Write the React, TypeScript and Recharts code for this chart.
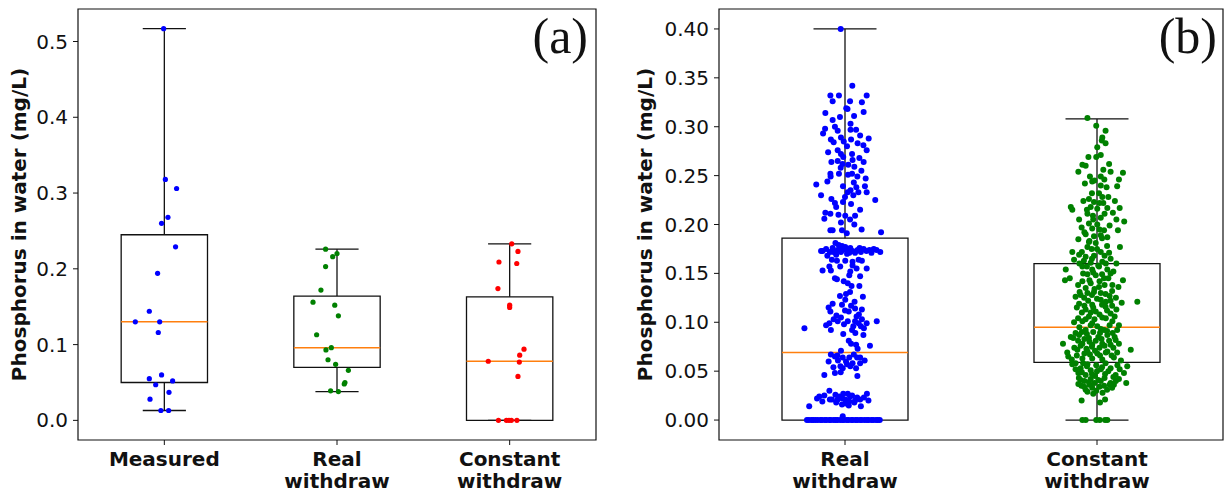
import { ScatterChart, Scatter, XAxis, YAxis, ReferenceArea, ReferenceLine } from 'recharts'

const FONT = '"DejaVu Sans", "Liberation Sans", sans-serif'
const INK = '#111111'
const MEDIAN = '#ff7f0e'

// ---- panel (a) ----
const categoriesA = ['Measured', 'Real\nwithdraw', 'Constant\nwithdraw']
const colorsA = ['#0000ff', '#008000', '#ff0000']
const yTicksA = [0, 0.1, 0.2, 0.3, 0.4, 0.5]
const whiskerLowA = [0.013, 0.038, 0]
const q1A = [0.05, 0.07, 0]
const medianA = [0.13, 0.096, 0.078]
const q3A = [0.245, 0.164, 0.163]
const whiskerHighA = [0.517, 0.226, 0.233]

// [jitter, value]
const measuredPts = [
  [-0.004, 0.517], [0.006, 0.318], [0.071, 0.306], [0.021, 0.268], [-0.016, 0.26],
  [0.065, 0.229], [-0.039, 0.194], [-0.087, 0.144], [-0.168, 0.13], [-0.027, 0.13],
  [-0.035, 0.116], [-0.016, 0.06], [-0.087, 0.055], [0.048, 0.052], [-0.05, 0.047],
  [0.027, 0.037], [-0.083, 0.028], [-0.02, 0.013], [0.025, 0.013],
]
const realPtsA = [
  [-0.066, 0.226], [0, 0.22], [-0.025, 0.216], [-0.066, 0.203], [-0.093, 0.172],
  [-0.139, 0.156], [-0.013, 0.152], [0.008, 0.138], [-0.118, 0.113], [-0.033, 0.096],
  [-0.064, 0.093], [-0.052, 0.08], [-0.008, 0.074], [0.066, 0.066], [0.046, 0.05],
  [0.042, 0.048], [-0.037, 0.039], [0.008, 0.038],
]
const constantPtsA = [
  [0.012, 0.233], [0.048, 0.223], [-0.062, 0.209], [0.041, 0.207], [-0.068, 0.174],
  [0, 0.152], [0, 0.149], [0.083, 0.094], [0.058, 0.086], [-0.124, 0.078],
  [0.056, 0.077], [0.048, 0.058], [-0.065, 0], [-0.019, 0], [-0.004, 0],
  [0.01, 0], [0.042, 0],
]

// ---- panel (b) ----
const categoriesB = ['Real\nwithdraw', 'Constant\nwithdraw']
const colorsB = ['#0000ff', '#008000']
const yTicksB = [0, 0.05, 0.1, 0.15, 0.2, 0.25, 0.3, 0.35, 0.4]
const whiskerLowB = [0, 0]
const q1B = [0, 0.059]
const medianB = [0.069, 0.095]
const q3B = [0.186, 0.16]
const whiskerHighB = [0.4, 0.308]

const realPtsB = [
  [-0.017, 0.4], [0.029, 0.342], [-0.058, 0.332], [-0.024, 0.332], [0.086, 0.332],
  [-0.049, 0.326], [0.02, 0.326], [0.067, 0.325], [0.005, 0.319], [0.074, 0.315],
  [-0.078, 0.314], [0.036, 0.311], [-0.02, 0.31], [-0.049, 0.307], [0.022, 0.303],
  [-0.079, 0.298], [-0.029, 0.296], [0.044, 0.297], [0.022, 0.297], [-0.087, 0.293],
  [0.06, 0.291], [0.094, 0.288], [-0.016, 0.289], [-0.056, 0.287], [0.024, 0.287],
  [-0.045, 0.284], [0.073, 0.281], [0.008, 0.28], [-0.029, 0.276], [-0.067, 0.274],
  [0.086, 0.276], [-0.016, 0.272], [0.028, 0.272], [-0.007, 0.269], [0.057, 0.268],
  [-0.054, 0.264], [0.074, 0.264], [-0.029, 0.265], [0.013, 0.261], [0.037, 0.259],
  [-0.017, 0.258], [-0.058, 0.252], [0.028, 0.252], [-0.024, 0.252], [0.012, 0.251],
  [-0.057, 0.249], [0.049, 0.249], [0.082, 0.247], [-0.114, 0.241], [-0.008, 0.239],
  [0.079, 0.239], [0.045, 0.238], [0.022, 0.235], [0.053, 0.233], [0.011, 0.233],
  [0.086, 0.233], [-0.095, 0.23], [0.033, 0.23], [-0.054, 0.226], [-0.008, 0.223],
  [0.12, 0.225], [-0.04, 0.222], [0.024, 0.221], [-0.078, 0.212], [-0.058, 0.211],
  [-0.026, 0.21], [0.001, 0.209], [0.04, 0.209], [-0.082, 0.206], [0.02, 0.205],
  [-0.016, 0.202], [0.037, 0.2], [-0.058, 0.194], [-0.049, 0.194], [-0.012, 0.194],
  [0.066, 0.195], [0.143, 0.192], [0.007, 0.191],
  [0.01, 0.318], [-0.04, 0.3], [0.05, 0.283], [-0.01, 0.262], [0.065, 0.255],
  [-0.07, 0.244], [0.035, 0.243], [-0.035, 0.218], [0.06, 0.215], [0, 0.228],
  [-0.005, 0.285], [0.03, 0.266],
  [-0.095, 0.173], [-0.089, 0.173], [-0.049, 0.176], [-0.038, 0.181], [-0.029, 0.174],
  [-0.02, 0.176], [-0.009, 0.174], [0.001, 0.177], [0.011, 0.174], [0.021, 0.176],
  [0.03, 0.173], [0.05, 0.174], [0.074, 0.175], [0.097, 0.174], [0.114, 0.175],
  [0.14, 0.172], [0.063, 0.172], [-0.046, 0.172], [-0.016, 0.172], [0.017, 0.171],
  [-0.075, 0.175], [-0.06, 0.172], [-0.012, 0.178], [0.04, 0.171], [0.085, 0.173],
  [0.125, 0.174], [-0.035, 0.169], [0.008, 0.17], [0.058, 0.176], [-0.025, 0.179],
  [0.105, 0.171],
  [-0.07, 0.168], [-0.052, 0.164], [0.054, 0.164], [-0.032, 0.163], [0.001, 0.163],
  [0.03, 0.162], [0.067, 0.163], [-0.062, 0.157], [-0.019, 0.157], [0.046, 0.155],
  [0.086, 0.155], [-0.089, 0.153], [-0.056, 0.153], [0.021, 0.152], [-0.032, 0.144],
  [0.017, 0.148], [0.06, 0.147], [-0.005, 0.142], [0.011, 0.14], [0.026, 0.137],
  [0.057, 0.137], [0.004, 0.129], [0.02, 0.131], [0.071, 0.126], [0.001, 0.123],
  [0.038, 0.121], [-0.049, 0.119], [-0.012, 0.118], [-0.065, 0.115], [0.024, 0.117],
  [0.04, 0.114], [-0.058, 0.111], [0.015, 0.111], [0.067, 0.113], [-0.034, 0.107],
  [0.046, 0.106], [-0.016, 0.105], [0.067, 0.103], [-0.029, 0.101], [-0.062, 0.099],
  [0.086, 0.099], [-0.004, 0.098], [0.011, 0.101], [0.04, 0.101], [0.054, 0.099],
  [0.126, 0.101], [-0.075, 0.097], [-0.161, 0.094], [0.033, 0.096], [0.063, 0.096],
  [-0.056, 0.092], [0.028, 0.092], [-0.007, 0.088], [0.073, 0.087], [0.041, 0.089],
  [-0.04, 0.145], [0.03, 0.158], [-0.02, 0.127], [0.055, 0.108], [-0.045, 0.103],
  [0, 0.112], [0.075, 0.094],
  [0.015, 0.081], [0.024, 0.078], [0.044, 0.077], [0.099, 0.076], [0.05, 0.073],
  [-0.016, 0.071], [-0.056, 0.067], [-0.04, 0.065], [-0.009, 0.064], [0.017, 0.064],
  [0.048, 0.064], [0.078, 0.061], [-0.028, 0.061], [0.004, 0.06], [0.03, 0.058],
  [0.06, 0.058], [-0.046, 0.054], [-0.009, 0.053], [0.021, 0.055], [0.044, 0.053],
  [-0.017, 0.049], [-0.04, 0.048], [-0.082, 0.046], [0.049, 0.045],
  [-0.03, 0.066], [0.008, 0.057], [0.035, 0.067], [-0.018, 0.055], [0.06, 0.064],
  [-0.065, 0.06],
  [-0.062, 0.03], [-0.102, 0.024], [-0.082, 0.025], [-0.038, 0.026], [-0.022, 0.024],
  [-0.007, 0.027], [0.011, 0.027], [0.028, 0.025], [0.048, 0.023], [0.087, 0.027],
  [-0.111, 0.022], [-0.029, 0.021], [0.001, 0.021], [0.017, 0.019], [0.06, 0.021],
  [0.093, 0.02], [-0.052, 0.021], [0.037, 0.018], [-0.012, 0.016], [0.015, 0.015],
  [0.063, 0.014], [-0.142, 0.014], [-0.009, 0.004],
  [-0.09, 0.019], [-0.06, 0.021], [-0.01, 0.022], [0.02, 0.024], [0.04, 0.02],
  [0.075, 0.023], [0.003, 0.017], [-0.035, 0.018],
  [-0.151, 0], [-0.143, 0], [-0.133, 0], [-0.126, 0], [-0.117, 0], [-0.108, 0],
  [-0.097, 0], [-0.091, 0], [-0.08, 0], [-0.073, 0], [-0.062, 0], [-0.056, 0],
  [-0.045, 0], [-0.037, 0], [-0.03, 0], [-0.019, 0], [-0.011, 0], [-0.004, 0],
  [0.007, 0], [0.014, 0], [0.025, 0], [0.031, 0], [0.042, 0], [0.049, 0],
  [0.06, 0], [0.067, 0], [0.078, 0], [0.087, 0], [0.094, 0], [0.105, 0],
  [0.112, 0], [0.123, 0], [0.13, 0], [0.138, 0],
]

const constantPtsB = [
  [-0.038, 0.309], [-0.003, 0.301], [0.034, 0.296], [0.021, 0.289], [0.019, 0.286],
  [0.034, 0.283], [0.001, 0.279], [0.015, 0.271], [-0.034, 0.269], [-0.003, 0.269],
  [-0.058, 0.261], [-0.045, 0.26], [0.048, 0.262], [-0.074, 0.254], [0.054, 0.254],
  [0.103, 0.253], [-0.028, 0.249], [0.015, 0.249], [0.029, 0.246], [0.087, 0.246],
  [-0.048, 0.242], [-0.019, 0.244], [0.015, 0.24], [0.08, 0.239], [0.038, 0.238],
  [0.008, 0.232], [0.021, 0.228], [-0.054, 0.224], [-0.032, 0.226], [-0.012, 0.223],
  [0.071, 0.224], [0.025, 0.222], [-0.104, 0.218], [-0.025, 0.218], [0.001, 0.216],
  [0.041, 0.217], [0.09, 0.217], [-0.098, 0.215], [0.063, 0.212], [-0.038, 0.211],
  [-0.016, 0.209], [0.015, 0.207], [-0.071, 0.205], [0.077, 0.205], [0.108, 0.203],
  [-0.032, 0.201], [0.001, 0.2], [-0.061, 0.197], [-0.019, 0.196], [0.028, 0.194],
  [0.083, 0.194], [-0.045, 0.19], [-0.012, 0.188], [0.015, 0.189], [0.041, 0.187],
  [-0.074, 0.185], [-0.032, 0.182], [-0.005, 0.181], [-0.038, 0.177], [0.091, 0.177],
  [-0.021, 0.175], [-0.098, 0.172], [0.015, 0.172], [0.048, 0.171], [-0.071, 0.169],
  [-0.045, 0.167], [-0.012, 0.168], [0.054, 0.165], [-0.091, 0.164], [-0.052, 0.163],
  [0.021, 0.162], [-0.025, 0.161], [0.077, 0.16],
  [-0.02, 0.165], [0.03, 0.168], [-0.06, 0.172], [0, 0.175], [0.04, 0.178],
  [-0.03, 0.183], [0.02, 0.186], [-0.05, 0.192], [0.01, 0.195], [0.05, 0.199],
  [-0.015, 0.205], [0.03, 0.211], [-0.04, 0.215], [0.01, 0.222], [-0.02, 0.232],
  [0.045, 0.228], [-0.01, 0.245], [0.025, 0.256],
  [-0.124, 0.154], [-0.058, 0.157],
  [-0.019, 0.154], [0.008, 0.157], [0.041, 0.154], [0.054, 0.15], [-0.038, 0.149],
  [-0.005, 0.148], [-0.108, 0.145], [-0.127, 0.143], [0.028, 0.145], [0.103, 0.143],
  [-0.058, 0.142], [-0.025, 0.14], [0.061, 0.138], [0.008, 0.136], [0.085, 0.136],
  [-0.069, 0.131], [-0.038, 0.13], [-0.012, 0.131], [0.034, 0.129], [-0.085, 0.126],
  [-0.051, 0.125], [0.015, 0.123], [0.054, 0.122], [0.098, 0.12], [0.16, 0.121],
  [-0.071, 0.119], [-0.019, 0.118], [0.034, 0.116], [-0.045, 0.113], [0.077, 0.113],
  [-0.005, 0.111], [0.054, 0.109], [-0.032, 0.106], [0.021, 0.105], [-0.091, 0.1],
  [-0.075, 0.104], [-0.045, 0.103], [-0.01, 0.103], [0.035, 0.104], [0.07, 0.106],
  [-0.06, 0.11], [-0.025, 0.11], [0.01, 0.108], [0.04, 0.112], [-0.08, 0.115],
  [-0.05, 0.117], [-0.015, 0.115], [0.02, 0.118], [0.06, 0.117], [-0.035, 0.122],
  [0, 0.124], [0.035, 0.121], [0.075, 0.125], [-0.065, 0.128], [-0.02, 0.128],
  [0.015, 0.13], [0.05, 0.127], [-0.045, 0.135], [-0.01, 0.134], [0.03, 0.138],
  [0.06, 0.132], [-0.075, 0.138], [-0.03, 0.143], [0.01, 0.142], [0.045, 0.145],
  [-0.055, 0.15], [-0.015, 0.151], [0.02, 0.149], [0.065, 0.152], [-0.04, 0.157],
  [0.005, 0.158], [0.035, 0.16], [-0.07, 0.16],
  [-0.058, 0.101], [-0.019, 0.099], [0.061, 0.101], [0.087, 0.097], [0.001, 0.096],
  [-0.045, 0.092], [0.028, 0.092], [-0.104, 0.085], [-0.071, 0.087], [-0.032, 0.084],
  [0.005, 0.085], [0.041, 0.087], [0.074, 0.082], [-0.094, 0.084], [-0.135, 0.078],
  [-0.058, 0.078], [-0.019, 0.077], [0.021, 0.078], [0.054, 0.077], [0.087, 0.078],
  [0.134, 0.072], [-0.118, 0.069], [-0.078, 0.072], [-0.038, 0.07], [0.001, 0.068],
  [0.041, 0.07], [-0.114, 0.065], [-0.058, 0.063], [-0.019, 0.063], [0.021, 0.062],
  [0.067, 0.064],
  [-0.08, 0.066], [-0.05, 0.068], [-0.028, 0.067], [-0.008, 0.071], [0.012, 0.066],
  [0.035, 0.069], [0.058, 0.066], [0.08, 0.069], [-0.09, 0.074], [-0.065, 0.076],
  [-0.042, 0.073], [-0.02, 0.075], [0.01, 0.074], [0.03, 0.076], [0.065, 0.074],
  [-0.075, 0.081], [-0.05, 0.083], [-0.03, 0.08], [-0.005, 0.081], [0.018, 0.083],
  [0.048, 0.081], [0.07, 0.085], [-0.085, 0.089], [-0.06, 0.09], [-0.04, 0.088],
  [-0.015, 0.09], [0.012, 0.089], [0.04, 0.091], [0.062, 0.089], [-0.07, 0.095],
  [-0.025, 0.097], [0.015, 0.093], [0.05, 0.097], [0.08, 0.092],
  [-0.085, 0.058], [-0.038, 0.057], [-0.003, 0.056], [0.034, 0.058],
  [0.081, 0.056], [-0.098, 0.057], [-0.065, 0.053], [-0.025, 0.051], [0.015, 0.052],
  [0.054, 0.053], [0.12, 0.055], [-0.074, 0.048], [-0.045, 0.046], [-0.008, 0.045],
  [0.032, 0.047], [0.074, 0.046], [0.107, 0.048], [-0.065, 0.041], [-0.032, 0.039],
  [0.015, 0.04], [0.054, 0.038], [0.087, 0.042], [0.116, 0.038], [-0.074, 0.037],
  [-0.051, 0.034], [-0.019, 0.033], [0.028, 0.035], [0.067, 0.036], [-0.038, 0.029],
  [-0.003, 0.03], [-0.061, 0.02], [0.012, 0.018], [0.032, 0.021],
  [-0.085, 0.052], [-0.06, 0.049], [-0.04, 0.055], [-0.02, 0.047], [0, 0.05],
  [0.02, 0.054], [0.045, 0.05], [0.065, 0.044], [-0.072, 0.043], [-0.05, 0.04],
  [-0.025, 0.042], [0.005, 0.041], [0.03, 0.043], [0.05, 0.036], [0.075, 0.04],
  [-0.062, 0.035], [-0.03, 0.036], [-0.01, 0.038], [0.01, 0.034], [0.04, 0.031],
  [0.06, 0.033], [-0.045, 0.031], [-0.015, 0.027], [0.022, 0.028], [-0.055, 0.058],
  [0.09, 0.052], [0.095, 0.061], [-0.1, 0.062],
  [-0.058, 0], [-0.045, 0], [-0.003, 0], [0.011, 0], [0.032, 0], [0.041, 0],
]

type Pt = number[]

function XTick(props: any) {
  const { x, y, payload, labels } = props
  const lines: string[] = labels[Math.round(payload.value) - 1].split('\n')
  return (
    <text x={x} y={y + 19} textAnchor="middle" fontFamily={FONT} fontWeight="bold" fontSize={20} fill={INK}>
      {lines.map((l, i) => (
        <tspan key={i} x={x} dy={i === 0 ? 0 : 22}>
          {l}
        </tspan>
      ))}
    </text>
  )
}

interface PanelProps {
  width: number
  yAxisWidth: number
  marginRight: number
  categories: string[]
  colors: string[]
  groups: Pt[][]
  low: number[]
  q1: number[]
  med: number[]
  q3: number[]
  high: number[]
  yDomain: [number, number]
  yTicks: number[]
  digits: number
  letter: string
  letterInset: number
  labelX: number
  dotR: number
}

function Panel(p: PanelProps) {
  const positions = p.categories.map((_, i) => i + 1)
  const xDomain: [number, number] = [0.5, p.categories.length + 0.5]

  const boxes = positions.flatMap((pos, i) => [
    <ReferenceArea key={`box${i}`} x1={pos - 0.25} x2={pos + 0.25} y1={p.q1[i]} y2={p.q3[i]}
      fill="none" stroke={INK} strokeWidth={1.3} ifOverflow="visible" />,
    <ReferenceLine key={`wu${i}`} segment={[{ x: pos, y: p.q3[i] }, { x: pos, y: p.high[i] }]}
      stroke={INK} strokeWidth={1.3} ifOverflow="visible" />,
    <ReferenceLine key={`wl${i}`} segment={[{ x: pos, y: p.low[i] }, { x: pos, y: p.q1[i] }]}
      stroke={INK} strokeWidth={1.3} ifOverflow="visible" />,
    <ReferenceLine key={`cu${i}`} segment={[{ x: pos - 0.125, y: p.high[i] }, { x: pos + 0.125, y: p.high[i] }]}
      stroke={INK} strokeWidth={1.3} ifOverflow="visible" />,
    <ReferenceLine key={`cl${i}`} segment={[{ x: pos - 0.125, y: p.low[i] }, { x: pos + 0.125, y: p.low[i] }]}
      stroke={INK} strokeWidth={1.3} ifOverflow="visible" />,
    <ReferenceLine key={`md${i}`} segment={[{ x: pos - 0.25, y: p.med[i] }, { x: pos + 0.25, y: p.med[i] }]}
      stroke={MEDIAN} strokeWidth={1.5} ifOverflow="visible" />,
  ])

  return (
    <ScatterChart width={p.width} height={495} margin={{ top: 9, right: p.marginRight, bottom: 0, left: 0 }}>
      <XAxis
        type="number"
        dataKey="x"
        domain={xDomain}
        ticks={positions}
        interval={0}
        allowDataOverflow
        axisLine={false}
        tickLine={{ stroke: INK }}
        tickSize={5}
        height={55}
        tick={<XTick labels={p.categories} />}
      />
      <YAxis
        type="number"
        dataKey="y"
        domain={p.yDomain}
        ticks={p.yTicks}
        interval={0}
        allowDataOverflow
        axisLine={false}
        tickLine={{ stroke: INK }}
        tickSize={5}
        tickMargin={5}
        width={p.yAxisWidth}
        tick={{ fontSize: 20, fill: INK, fontFamily: FONT }}
        tickFormatter={(v: number) => v.toFixed(p.digits)}
        label={(lp: any) => {
          const vb = lp.viewBox
          const cy = vb.y + vb.height / 2
          return (
            <text x={p.labelX} y={cy} transform={`rotate(-90, ${p.labelX}, ${cy})`} textAnchor="middle"
              fontFamily={FONT} fontWeight="bold" fontSize={20} fill={INK}>
              Phosphorus in water (mg/L)
            </text>
          )
        }}
      />
      {p.groups.map((pts, i) => (
        <Scatter
          key={`s${i}`}
          data={pts.map(([o, v]) => ({ x: positions[i] + o, y: v }))}
          fill={p.colors[i]}
          isAnimationActive={false}
          shape={(sp: any) => <circle cx={sp.cx} cy={sp.cy} r={p.dotR} fill={p.colors[i]} />}
        />
      ))}
      {boxes}
      <ReferenceArea
        x1={xDomain[0]}
        x2={xDomain[1]}
        y1={p.yDomain[0]}
        y2={p.yDomain[1]}
        fill="none"
        stroke={INK}
        strokeWidth={1.2}
        ifOverflow="visible"
        label={(lp: any) => {
          const vb = lp.viewBox
          return (
            <text x={vb.x + vb.width - p.letterInset} y={vb.y + 44} textAnchor="end"
              fontFamily='"Liberation Serif", "Times New Roman", serif' fontSize={50} fill={INK}>
              {p.letter}
            </text>
          )
        }}
      />
    </ScatterChart>
  )
}

export default function App() {
  return (
    <div style={{ position: 'absolute', left: 0, top: 0, width: 1224, height: 495, background: '#fff' }}>
      <div style={{ position: 'absolute', left: 0, top: 0 }}>
        <Panel
          width={600}
          yAxisWidth={78}
          marginRight={4}
          categories={categoriesA}
          colors={colorsA}
          groups={[measuredPts, realPtsA, constantPtsA]}
          low={whiskerLowA}
          q1={q1A}
          med={medianA}
          q3={q3A}
          high={whiskerHighA}
          yDomain={[-0.0259, 0.5429]}
          yTicks={yTicksA}
          digits={1}
          letter="(a)"
          letterInset={8}
          labelX={26}
          dotR={2.6}
        />
      </div>
      <div style={{ position: 'absolute', left: 620, top: 0 }}>
        <Panel
          width={604}
          yAxisWidth={99}
          marginRight={1}
          categories={categoriesB}
          colors={colorsB}
          groups={[realPtsB, constantPtsB]}
          low={whiskerLowB}
          q1={q1B}
          med={medianB}
          q3={q3B}
          high={whiskerHighB}
          yDomain={[-0.0204, 0.4204]}
          yTicks={yTicksB}
          digits={2}
          letter="(b)"
          letterInset={6}
          labelX={32}
          dotR={3}
        />
      </div>
    </div>
  )
}
